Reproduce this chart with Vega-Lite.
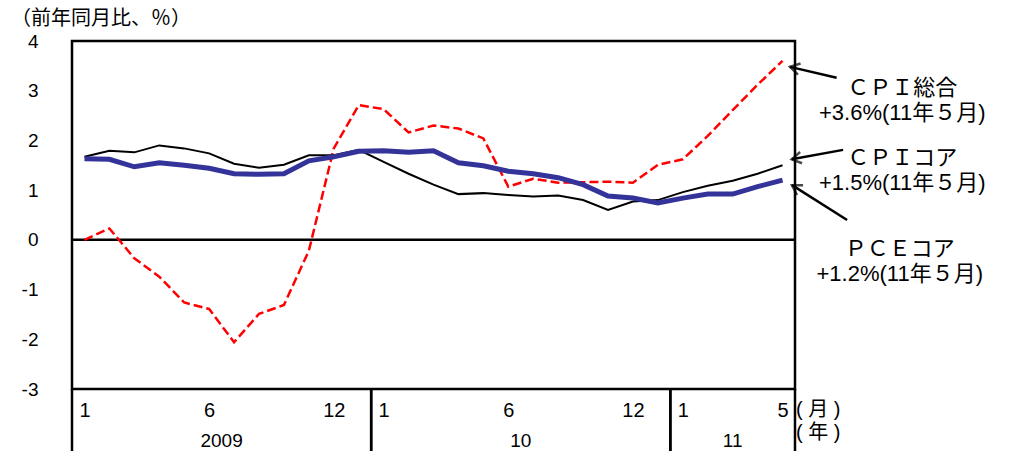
{
  "$schema": "https://vega.github.io/schema/vega-lite/v6.json",
  "width": 723,
  "height": 348,
  "autosize": {"type": "none"},
  "padding": {"left": 72, "top": 41, "right": 228, "bottom": 62},
  "background": "white",
  "config": {
    "view": {"stroke": "black", "strokeWidth": 2.5},
    "axis": {
      "grid": false,
      "ticks": false,
      "tickSize": 0,
      "domain": false,
      "labelFont": "Liberation Sans",
      "labelFontSize": 20,
      "labelColor": "black"
    },
    "axisX": {"labelBaseline": "middle", "labelPadding": 21, "labelFlush": false, "labelOverlap": false},
    "axisY": {"labelPadding": 34, "labelFontSize": 19, "labelBaseline": "middle"},
    "text": {"font": "Liberation Sans, Noto Sans CJK JP", "color": "black"}
  },
  "data": {
    "values": [
      {"idx": 0, "year": 2009, "month": 1, "cpi": 0.0, "cpiCore": 1.67, "pceCore": 1.63},
      {"idx": 1, "year": 2009, "month": 2, "cpi": 0.23, "cpiCore": 1.79, "pceCore": 1.62},
      {"idx": 2, "year": 2009, "month": 3, "cpi": -0.37, "cpiCore": 1.76, "pceCore": 1.47},
      {"idx": 3, "year": 2009, "month": 4, "cpi": -0.74, "cpiCore": 1.9, "pceCore": 1.55},
      {"idx": 4, "year": 2009, "month": 5, "cpi": -1.26, "cpiCore": 1.84, "pceCore": 1.5},
      {"idx": 5, "year": 2009, "month": 6, "cpi": -1.39, "cpiCore": 1.74, "pceCore": 1.44},
      {"idx": 6, "year": 2009, "month": 7, "cpi": -2.06, "cpiCore": 1.53, "pceCore": 1.33},
      {"idx": 7, "year": 2009, "month": 8, "cpi": -1.49, "cpiCore": 1.45, "pceCore": 1.32},
      {"idx": 8, "year": 2009, "month": 9, "cpi": -1.31, "cpiCore": 1.51, "pceCore": 1.33},
      {"idx": 9, "year": 2009, "month": 10, "cpi": -0.22, "cpiCore": 1.7, "pceCore": 1.59},
      {"idx": 10, "year": 2009, "month": 11, "cpi": 1.84, "cpiCore": 1.7, "pceCore": 1.67},
      {"idx": 11, "year": 2009, "month": 12, "cpi": 2.71, "cpiCore": 1.81, "pceCore": 1.78},
      {"idx": 12, "year": 2010, "month": 1, "cpi": 2.63, "cpiCore": 1.57, "pceCore": 1.79},
      {"idx": 13, "year": 2010, "month": 2, "cpi": 2.16, "cpiCore": 1.33, "pceCore": 1.76},
      {"idx": 14, "year": 2010, "month": 3, "cpi": 2.3, "cpiCore": 1.11, "pceCore": 1.79},
      {"idx": 15, "year": 2010, "month": 4, "cpi": 2.24, "cpiCore": 0.92, "pceCore": 1.55},
      {"idx": 16, "year": 2010, "month": 5, "cpi": 2.04, "cpiCore": 0.94, "pceCore": 1.49},
      {"idx": 17, "year": 2010, "month": 6, "cpi": 1.07, "cpiCore": 0.9, "pceCore": 1.38},
      {"idx": 18, "year": 2010, "month": 7, "cpi": 1.23, "cpiCore": 0.87, "pceCore": 1.33},
      {"idx": 19, "year": 2010, "month": 8, "cpi": 1.15, "cpiCore": 0.89, "pceCore": 1.25},
      {"idx": 20, "year": 2010, "month": 9, "cpi": 1.16, "cpiCore": 0.8, "pceCore": 1.11},
      {"idx": 21, "year": 2010, "month": 10, "cpi": 1.17, "cpiCore": 0.6, "pceCore": 0.88},
      {"idx": 22, "year": 2010, "month": 11, "cpi": 1.15, "cpiCore": 0.77, "pceCore": 0.84},
      {"idx": 23, "year": 2010, "month": 12, "cpi": 1.51, "cpiCore": 0.8, "pceCore": 0.74},
      {"idx": 24, "year": 2011, "month": 1, "cpi": 1.62, "cpiCore": 0.96, "pceCore": 0.84},
      {"idx": 25, "year": 2011, "month": 2, "cpi": 2.09, "cpiCore": 1.09, "pceCore": 0.92},
      {"idx": 26, "year": 2011, "month": 3, "cpi": 2.61, "cpiCore": 1.19, "pceCore": 0.92},
      {"idx": 27, "year": 2011, "month": 4, "cpi": 3.12, "cpiCore": 1.33, "pceCore": 1.07},
      {"idx": 28, "year": 2011, "month": 5, "cpi": 3.6, "cpiCore": 1.5, "pceCore": 1.2}
    ]
  },
  "layer": [
    {
      "data": {"values": [{}]},
      "mark": {"type": "rule", "color": "black", "strokeWidth": 2.5},
      "encoding": {
        "y": {"datum": 0, "type": "quantitative", "title": null, "scale": {"domain": [-3, 4], "nice": false, "zero": false}}
      }
    },
    {
      "transform": [
        {"aggregate": [{"op": "min", "field": "idx", "as": "lo"}, {"op": "max", "field": "idx", "as": "hi"}], "groupby": ["year"]},
        {"calculate": "datum.lo - 0.5", "as": "startEdge"},
        {"calculate": "datum.hi + 0.5", "as": "endEdge"},
        {"fold": ["startEdge", "endEdge"], "as": ["side", "edge"]}
      ],
      "mark": {"type": "rule", "color": "black", "strokeWidth": 2.5, "clip": false},
      "encoding": {
        "x": {"field": "edge", "type": "quantitative", "title": null, "scale": {"domain": [-0.5, 28.5], "nice": false, "zero": false}},
        "y": {"datum": -3, "type": "quantitative", "title": null, "scale": {"domain": [-3, 4], "nice": false, "zero": false}},
        "y2": {"datum": -4.3}
      }
    },
    {
      "transform": [
        {"aggregate": [{"op": "mean", "field": "idx", "as": "mid"}], "groupby": ["year"]},
        {"calculate": "datum.year == 2009 ? '2009' : substring(toString(datum.year), 2)", "as": "yearLabel"}
      ],
      "mark": {"type": "text", "fontSize": 19, "baseline": "middle", "align": "center", "clip": false},
      "encoding": {
        "x": {"field": "mid", "type": "quantitative", "title": null, "scale": {"domain": [-0.5, 28.5], "nice": false, "zero": false}},
        "y": {"datum": -4.04, "type": "quantitative", "title": null, "scale": {"domain": [-3, 4], "nice": false, "zero": false}},
        "text": {"field": "yearLabel"}
      }
    },
    {
      "mark": {"type": "line", "color": "#ff0000", "strokeWidth": 2.5, "strokeDash": [9, 4]},
      "encoding": {
        "x": {
          "field": "idx", "type": "quantitative", "title": null,
          "scale": {"domain": [-0.5, 28.5], "nice": false, "zero": false},
          "axis": {
            "values": [0, 5, 10, 12, 17, 22, 24, 28],
            "labelExpr": "datum.value == 10 || datum.value == 22 ? '12' : (datum.value == 5 || datum.value == 17 ? '6' : (datum.value == 28 ? '5' : '1'))"
          }
        },
        "y": {
          "field": "cpi", "type": "quantitative", "title": null,
          "scale": {"domain": [-3, 4], "nice": false, "zero": false},
          "axis": {"values": [-3, -2, -1, 0, 1, 2, 3, 4], "labelExpr": "'' + datum.value"}
        }
      }
    },
    {
      "mark": {"type": "line", "color": "#000000", "strokeWidth": 2},
      "encoding": {
        "x": {"field": "idx", "type": "quantitative", "title": null, "scale": {"domain": [-0.5, 28.5], "nice": false, "zero": false}},
        "y": {"field": "cpiCore", "type": "quantitative", "title": null, "scale": {"domain": [-3, 4], "nice": false, "zero": false}}
      }
    },
    {
      "mark": {"type": "line", "color": "#333399", "strokeWidth": 5},
      "encoding": {
        "x": {"field": "idx", "type": "quantitative", "title": null, "scale": {"domain": [-0.5, 28.5], "nice": false, "zero": false}},
        "y": {"field": "pceCore", "type": "quantitative", "title": null, "scale": {"domain": [-3, 4], "nice": false, "zero": false}}
      }
    },
    {
      "data": {"values": [{}]},
      "mark": {"type": "text", "text": "（前年同月比、％）", "font": "Noto Sans CJK JP", "fontSize": 20, "align": "left", "baseline": "middle", "clip": false},
      "encoding": {
        "x": {"datum": -2.95, "type": "quantitative", "title": null, "scale": {"domain": [-0.5, 28.5], "nice": false, "zero": false}},
        "y": {"datum": 4.45, "type": "quantitative", "title": null, "scale": {"domain": [-3, 4], "nice": false, "zero": false}}
      }
    },
    {
      "data": {"values": [{}]},
      "mark": {"type": "text", "text": "( 月 )", "fontSize": 20, "align": "left", "baseline": "middle", "dx": 1, "clip": false},
      "encoding": {
        "x": {"datum": 28.5, "type": "quantitative", "title": null, "scale": {"domain": [-0.5, 28.5], "nice": false, "zero": false}},
        "y": {"datum": -3.42, "type": "quantitative", "title": null, "scale": {"domain": [-3, 4], "nice": false, "zero": false}}
      }
    },
    {
      "data": {"values": [{}]},
      "mark": {"type": "text", "text": "( 年 )", "fontSize": 20, "align": "left", "baseline": "middle", "dx": 1, "clip": false},
      "encoding": {
        "x": {"datum": 28.5, "type": "quantitative", "title": null, "scale": {"domain": [-0.5, 28.5], "nice": false, "zero": false}},
        "y": {"datum": -3.89, "type": "quantitative", "title": null, "scale": {"domain": [-3, 4], "nice": false, "zero": false}}
      }
    },
    {
      "data": {"values": [{}]},
      "mark": {"type": "text", "text": "ＣＰＩ総合\n+3.6%(11年５月)", "lineBreak": "\n", "lineHeight": 25, "fontSize": 22, "align": "center", "baseline": "middle", "clip": false},
      "encoding": {
        "x": {"datum": 32.8, "type": "quantitative", "title": null, "scale": {"domain": [-0.5, 28.5], "nice": false, "zero": false}},
        "y": {"datum": 3.045, "type": "quantitative", "title": null, "scale": {"domain": [-3, 4], "nice": false, "zero": false}}
      }
    },
    {
      "data": {"values": [{}]},
      "mark": {"type": "text", "text": "ＣＰＩコア\n+1.5%(11年５月)", "lineBreak": "\n", "lineHeight": 25, "fontSize": 22, "align": "center", "baseline": "middle", "clip": false},
      "encoding": {
        "x": {"datum": 32.8, "type": "quantitative", "title": null, "scale": {"domain": [-0.5, 28.5], "nice": false, "zero": false}},
        "y": {"datum": 1.656, "type": "quantitative", "title": null, "scale": {"domain": [-3, 4], "nice": false, "zero": false}}
      }
    },
    {
      "data": {"values": [{}]},
      "mark": {"type": "text", "text": "ＰＣＥコア\n+1.2%(11年５月)", "lineBreak": "\n", "lineHeight": 25, "fontSize": 22, "align": "center", "baseline": "middle", "clip": false},
      "encoding": {
        "x": {"datum": 32.7, "type": "quantitative", "title": null, "scale": {"domain": [-0.5, 28.5], "nice": false, "zero": false}},
        "y": {"datum": -0.184, "type": "quantitative", "title": null, "scale": {"domain": [-3, 4], "nice": false, "zero": false}}
      }
    },
    {
      "data": {"values": [{}]},
      "mark": {"type": "rule", "color": "black", "strokeWidth": 2.5, "clip": false},
      "encoding": {
        "x": {"datum": 28.3, "type": "quantitative", "title": null, "scale": {"domain": [-0.5, 28.5], "nice": false, "zero": false}},
        "y": {"datum": 3.48, "type": "quantitative", "title": null, "scale": {"domain": [-3, 4], "nice": false, "zero": false}},
        "x2": {"datum": 30.17},
        "y2": {"datum": 3.26}
      }
    },
    {
      "data": {"values": [{}]},
      "mark": {"type": "rule", "color": "black", "strokeWidth": 2.5, "clip": false},
      "encoding": {
        "x": {"datum": 28.37, "type": "quantitative", "title": null, "scale": {"domain": [-0.5, 28.5], "nice": false, "zero": false}},
        "y": {"datum": 1.62, "type": "quantitative", "title": null, "scale": {"domain": [-3, 4], "nice": false, "zero": false}},
        "x2": {"datum": 30.43},
        "y2": {"datum": 1.81}
      }
    },
    {
      "data": {"values": [{}]},
      "mark": {"type": "rule", "color": "black", "strokeWidth": 2.5, "clip": false},
      "encoding": {
        "x": {"datum": 28.38, "type": "quantitative", "title": null, "scale": {"domain": [-0.5, 28.5], "nice": false, "zero": false}},
        "y": {"datum": 1.1, "type": "quantitative", "title": null, "scale": {"domain": [-3, 4], "nice": false, "zero": false}},
        "x2": {"datum": 30.59},
        "y2": {"datum": 0.4}
      }
    },
    {
      "data": {"values": [{}]},
      "mark": {"type": "point", "shape": "M1,-0.6L0,0L1,0.6", "size": 360, "filled": false, "color": "black", "strokeWidth": 2.5, "angle": 13, "clip": false},
      "encoding": {
        "x": {"datum": 28.3, "type": "quantitative", "title": null, "scale": {"domain": [-0.5, 28.5], "nice": false, "zero": false}},
        "y": {"datum": 3.48, "type": "quantitative", "title": null, "scale": {"domain": [-3, 4], "nice": false, "zero": false}}
      }
    },
    {
      "data": {"values": [{}]},
      "mark": {"type": "point", "shape": "M1,-0.6L0,0L1,0.6", "size": 360, "filled": false, "color": "black", "strokeWidth": 2.5, "angle": 350, "clip": false},
      "encoding": {
        "x": {"datum": 28.37, "type": "quantitative", "title": null, "scale": {"domain": [-0.5, 28.5], "nice": false, "zero": false}},
        "y": {"datum": 1.62, "type": "quantitative", "title": null, "scale": {"domain": [-3, 4], "nice": false, "zero": false}}
      }
    },
    {
      "data": {"values": [{}]},
      "mark": {"type": "point", "shape": "M1,-0.6L0,0L1,0.6", "size": 360, "filled": false, "color": "black", "strokeWidth": 2.5, "angle": 32, "clip": false},
      "encoding": {
        "x": {"datum": 28.38, "type": "quantitative", "title": null, "scale": {"domain": [-0.5, 28.5], "nice": false, "zero": false}},
        "y": {"datum": 1.1, "type": "quantitative", "title": null, "scale": {"domain": [-3, 4], "nice": false, "zero": false}}
      }
    }
  ]
}
